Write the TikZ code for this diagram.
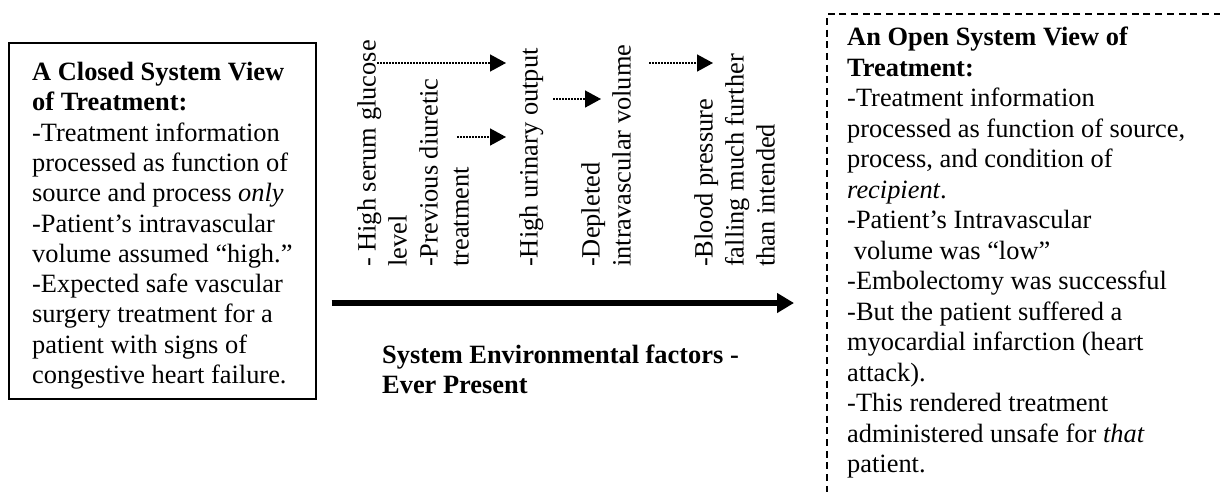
\documentclass[tikz,border=0pt]{standalone}
\usepackage{fontspec}
\setmainfont{Liberation Serif}
\usetikzlibrary{arrows.meta,positioning,fit,calc}

\begin{document}
\begin{tikzpicture}[
  x=1pt, y=-1pt,
  font=\fontsize{26.4}{30.3}\selectfont,
  view/.style={align=left, inner sep=0pt, anchor=north west},
  factor/.style={align=left, inner sep=0pt, anchor=north west, rotate=90,
    font=\fontsize{26.4}{31}\selectfont},
  closedframe/.style={draw=black, line width=2pt, inner xsep=23pt, inner ysep=0pt},
  openframe/.style={draw=black, line width=1.7pt, dash pattern=on 7pt off 4.7pt,
    inner sep=0pt, minimum width=440pt, minimum height=520pt, anchor=north west},
  causear/.style={line width=1.5pt, dash pattern=on 1.5pt off 1.5pt,
    -{Triangle[length=16pt,width=17pt]}},
  envar/.style={line width=6pt, -{Triangle[length=17pt,width=19pt]}},
]
\clip (0,0) rectangle (1220,491);

% closed view (left)
\node[view] (ctext) at (32,62) {{\bfseries A Closed System View}\\
  {\bfseries of Treatment:}\\
  -Treatment information\\
  processed as function of\\
  source and process \emph{only}\\
  -Patient’s intravascular\\
  volume assumed “high.”\\
  -Expected safe vascular\\
  surgery treatment for a\\
  patient with signs of\\
  congestive heart failure.};
\node[closedframe, fit={([yshift=19pt]ctext.north west) ([yshift=-10pt]ctext.south east)}] (cbox) {};

% open view (right)
\node[openframe] (obox) at (826,13) {};
\node[view, font=\fontsize{26.4}{30.5}\selectfont] (otext) at ([xshift=21pt,yshift=-14pt]obox.north west)
  {{\bfseries An Open System View of}\\
  {\bfseries Treatment:}\\
  -Treatment information\\
  processed as function of source,\\
  process, and condition of\\
  \emph{recipient}.\\
  -Patient’s Intravascular\\
  \hspace*{0.25em}volume was “low”\\
  -Embolectomy was successful\\
  -But the patient suffered a\\
  myocardial infarction (heart\\
  attack).\\
  -This rendered treatment\\
  administered unsafe for \emph{that}\\
  patient.};

% environmental factors
\node[factor] (glucose) at (357,267) {- High serum glucose\\level\\-Previous diuretic\\treatment};
\node[factor] (urine) at (519,267) {-High urinary output};
\node[factor] (volume) at (581,267) {-Depleted\\intravascular volume};
\node[factor] (pressure) at (694,267) {-Blood pressure\\falling much further\\than intended};

\coordinate (r1) at (0,63);
\coordinate (r2) at (0,137);
\coordinate (r3) at (0,99);
\coordinate (rE) at (0,303);
\draw[causear] ([xshift=20pt]glucose.north |- r1) -- ([xshift=-13pt]urine.north |- r1);
\draw[causear] ([xshift=100pt]glucose.north |- r2) -- ([xshift=-13pt]urine.north |- r2);
\draw[causear] ([xshift=34pt]urine.north |- r3) -- ([xshift=20pt]volume.north |- r3);
\draw[causear] ([xshift=68pt]volume.north |- r1) -- ([xshift=19pt]pressure.north |- r1);

\draw[envar] ([xshift=15pt]cbox.east |- rE) -- ([xshift=-32pt]obox.west |- rE);
\node[view, font=\fontsize{26.4}{30}\selectfont\bfseries] (envlabel) at (382,345)
  {System Environmental factors -\\Ever Present};
\end{tikzpicture}
\end{document}
